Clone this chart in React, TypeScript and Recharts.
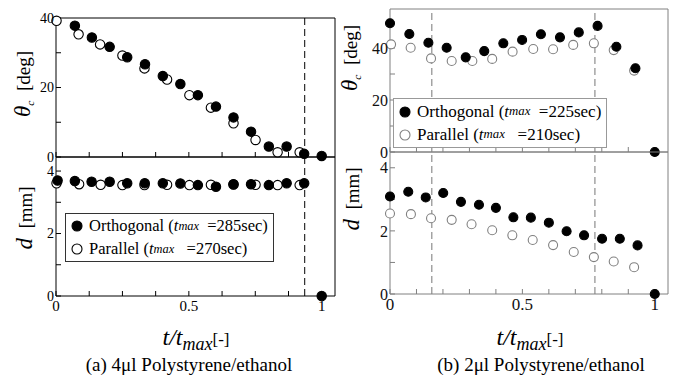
import React from "react";
import { Legend, ReferenceLine, Scatter, ScatterChart, XAxis, YAxis } from "recharts";

// (a) 4ul, t/tmax positions and values
const A_THETA_ORTH_T = [0.071, 0.135, 0.202, 0.268, 0.335, 0.402, 0.468, 0.534, 0.602, 0.668, 0.734, 0.801, 0.868, 0.934, 1.0];
const A_THETA_ORTH = [37.8, 34.4, 31.7, 28.7, 26.7, 23.3, 21.0, 17.8, 14.5, 11.4, 7.3, 3.0, 3.0, 0.9, 0.3];
const A_THETA_PAR_T = [0.002, 0.085, 0.166, 0.25, 0.333, 0.418, 0.502, 0.583, 0.668, 0.751, 0.834, 0.917];
const A_THETA_PAR = [39.2, 35.3, 32.4, 29.2, 25.5, 22.3, 17.8, 14.2, 9.7, 4.9, 1.35, 1.35];
const A_D_ORTH_T = [0.006, 0.071, 0.134, 0.202, 0.268, 0.334, 0.402, 0.468, 0.534, 0.602, 0.668, 0.734, 0.801, 0.868, 0.934, 1.0];
const A_D_ORTH = [3.7, 3.68, 3.66, 3.66, 3.61, 3.61, 3.61, 3.6, 3.55, 3.5, 3.58, 3.58, 3.55, 3.61, 3.61, 0];
const A_D_PAR_T = [0.002, 0.087, 0.168, 0.25, 0.333, 0.418, 0.502, 0.583, 0.668, 0.751, 0.834, 0.917];
const A_D_PAR = [3.61, 3.58, 3.56, 3.55, 3.55, 3.56, 3.55, 3.56, 3.57, 3.56, 3.55, 3.55];

// (b) 2ul
const B_THETA_ORTH_T = [0, 0.073, 0.145, 0.214, 0.286, 0.356, 0.428, 0.499, 0.57, 0.642, 0.713, 0.784, 0.855, 0.927, 1.0];
const B_THETA_ORTH = [49.5, 45.4, 42.0, 40.1, 36.4, 38.8, 41.8, 43.1, 45.3, 44.1, 46.0, 48.5, 40.5, 32.2, 0];
const B_THETA_PAR_T = [0.004, 0.078, 0.155, 0.233, 0.311, 0.386, 0.463, 0.541, 0.616, 0.692, 0.77, 0.845, 0.922];
const B_THETA_PAR = [41.4, 40.1, 36.0, 35.0, 35.0, 35.8, 38.6, 39.6, 39.5, 41.2, 41.8, 39.2, 31.3];
const B_D_ORTH_T = [0, 0.069, 0.135, 0.201, 0.268, 0.336, 0.4, 0.466, 0.532, 0.6, 0.667, 0.733, 0.801, 0.868, 0.935, 1.0];
const B_D_ORTH = [3.09, 3.24, 3.06, 3.2, 2.92, 2.83, 2.73, 2.43, 2.42, 2.26, 1.99, 1.86, 1.75, 1.75, 1.54, 0];
const B_D_PAR_T = [0, 0.079, 0.155, 0.233, 0.308, 0.386, 0.462, 0.539, 0.616, 0.694, 0.77, 0.845, 0.922];
const B_D_PAR = [2.55, 2.53, 2.4, 2.35, 2.21, 2.02, 1.86, 1.71, 1.55, 1.33, 1.17, 1.03, 0.85];

// ticks
const A_X_TICKS = [0, 0.125, 0.25, 0.375, 0.5, 0.625, 0.75, 0.875, 1];
const B_X_TICKS = [0, 0.1, 0.2, 0.3, 0.4, 0.5, 0.6, 0.7, 0.8, 0.9, 1];
const X_LABELS = [0, 0.5, 1];
const A_THETA_TICKS = [0, 10, 20, 30, 40];
const A_THETA_RIGHT = [3.9, 10.2, 16.4, 22.7, 29, 35.3];
const A_D_TICKS = [0, 1, 2, 3, 4];
const A_D_RIGHT = [0.65, 1.3, 1.96, 2.62, 3.29, 3.95];
const B_THETA_TICKS = [0, 10, 20, 30, 40, 50];
const B_THETA_RIGHT = [0, 4, 8, 12, 16, 20, 24, 28, 32, 36, 40, 44, 48, 52];
const B_D_TICKS = [0, 1, 2, 3, 4];
const B_D_RIGHT = [0, 0.5, 1, 1.5, 2, 2.5, 3, 3.5, 4];
const THETA_LABELS = [0, 20, 40];
const D_LABELS = [0, 2, 4];

const A_TMAX = ["285", "270"];
const B_TMAX = ["225", "210"];

const zip = (ts: number[], vs: number[]) => ts.map((t, i) => ({ t, v: vs[i] }));

const FONT = "'Liberation Serif', 'Times New Roman', Times, serif";

const dot = (r: number, fill: string, stroke: string) => (p: any) =>
  p.cx == null ? <g /> : <circle cx={p.cx} cy={p.cy} r={r} fill={fill} stroke={stroke} strokeWidth={1.1} />;

function LegendBox({ tmax, border, openStroke, font }: any) {
  const row = (filled: boolean, label: string, t: string, gap: string) => (
    <div style={{ display: "flex", alignItems: "center", height: font + 6, whiteSpace: "nowrap" }}>
      <svg width={16} height={14} style={{ marginRight: 4 }}>
        <circle cx={8} cy={7} r={5} fill={filled ? "#000" : "#fff"} stroke={filled ? "#000" : openStroke} strokeWidth={1.1} />
      </svg>
      <span>{label}</span>
      <span style={{ fontStyle: "italic" }}>t</span>
      <sub style={{ fontStyle: "italic", fontSize: font * 0.75, verticalAlign: "-0.35em" }}>max</sub>
      <span style={{ whiteSpace: "pre" }}>{gap}=</span>
      <span>{t}sec)</span>
    </div>
  );
  return (
    <div
      style={{
        border: `1px solid ${border}`,
        background: "#fff",
        padding: "1px 5px 1px 3px",
        fontFamily: FONT,
        fontSize: font,
        color: "#000",
        lineHeight: 1,
      }}
    >
      {row(true, "Orthogonal (", tmax[0], "  ")}
      {row(false, "Parallel ( ", tmax[1], "   ")}
    </div>
  );
}

function Plot(props: any) {
  const {
    w, h, margin, ymax, yTicks, yLabels, rightTicks, xTicks, xLabels, tickColor,
    axisColor, refLines, refColor, orth, par, openStroke, r, topTicks, fs, yfs, legend,
  } = props;
  const tickStyle = { fontSize: fs, fill: tickColor, fontFamily: FONT };
  const yTickStyle = { fontSize: yfs, fill: tickColor, fontFamily: FONT };
  return (
    <ScatterChart width={w} height={h} margin={margin}>
      <XAxis
        xAxisId="b"
        type="number"
        dataKey="t"
        domain={[0, 1.05]}
        ticks={xTicks}
        interval={0}
        height={xLabels ? 30 : 1}
        tickSize={-5}
        tickMargin={9}
        stroke={axisColor}
        tick={tickStyle}
        tickFormatter={(v: number) => (xLabels && X_LABELS.includes(v) ? String(v) : "")}
      />
      <XAxis
        xAxisId="t"
        orientation="top"
        type="number"
        domain={[0, 1.05]}
        ticks={xTicks}
        interval={0}
        height={1}
        tickSize={-5}
        tickLine={topTicks}
        stroke={axisColor}
        tickFormatter={() => ""}
      />
      <YAxis
        yAxisId="l"
        type="number"
        dataKey="v"
        domain={[0, ymax]}
        ticks={yTicks}
        interval={0}
        width={40}
        tickSize={-5}
        tickMargin={7}
        stroke={axisColor}
        tick={yTickStyle}
        tickFormatter={(v: number) => (yLabels.includes(v) ? String(v) : "")}
      />
      <YAxis
        yAxisId="r"
        orientation="right"
        type="number"
        domain={[0, ymax]}
        ticks={rightTicks}
        interval={0}
        width={1}
        tickSize={-4}
        stroke={axisColor}
        tickFormatter={() => ""}
      />
      {refLines.map((x: number) => (
        <ReferenceLine key={x} x={x} xAxisId="b" yAxisId="l" stroke={refColor} strokeDasharray="7 4" strokeWidth={1} />
      ))}
      {legend && (
        <Legend
          layout="vertical"
          align="center"
          verticalAlign="middle"
          wrapperStyle={{ left: legend.x, top: legend.y, width: "auto" }}
          content={() => <LegendBox {...legend} openStroke={openStroke} />}
        />
      )}
      <Scatter
        name="Parallel"
        data={par}
        xAxisId="b"
        yAxisId="l"
        dataKey="v"
        isAnimationActive={false}
        shape={dot(r, "#fff", openStroke)}
      />
      <Scatter
        name="Orthogonal"
        data={orth}
        xAxisId="b"
        yAxisId="l"
        dataKey="v"
        isAnimationActive={false}
        shape={dot(r, "#000", "#000")}
      />
    </ScatterChart>
  );
}

function VTitle({ x, y, kind, size }: any) {
  return (
    <div
      style={{
        position: "absolute",
        left: x,
        top: y,
        transform: "translate(-50%, -50%) rotate(-90deg)",
        whiteSpace: "nowrap",
        fontFamily: FONT,
        color: "#000",
        lineHeight: 1,
      }}
    >
      {kind === "theta" ? (
        <>
          <span style={{ fontStyle: "italic", fontSize: size + 4 }}>θ</span>
          <sub style={{ fontStyle: "italic", fontSize: size * 0.6 }}>c</sub>
          <span style={{ fontSize: size, whiteSpace: "pre" }}>{"  [deg]"}</span>
        </>
      ) : (
        <>
          <span style={{ fontStyle: "italic", fontSize: size + 4 }}>d</span>
          <span style={{ fontSize: size, whiteSpace: "pre" }}>{"  [mm]"}</span>
        </>
      )}
    </div>
  );
}

function XTitle({ x, y }: any) {
  return (
    <div
      style={{
        position: "absolute",
        left: x,
        top: y,
        transform: "translate(-50%, -50%)",
        whiteSpace: "nowrap",
        fontFamily: FONT,
        color: "#000",
        lineHeight: 1,
      }}
    >
      <span style={{ fontStyle: "italic", fontSize: 24 }}>t/t</span>
      <sub style={{ fontStyle: "italic", fontSize: 18, verticalAlign: "-0.3em" }}>max</sub>
      <span style={{ fontSize: 17 }}>[-]</span>
    </div>
  );
}

function Caption({ x, y, text }: any) {
  return (
    <div
      style={{
        position: "absolute",
        left: x,
        top: y,
        transform: "translate(-50%, -50%)",
        whiteSpace: "nowrap",
        fontFamily: FONT,
        fontSize: 19,
        color: "#000",
      }}
    >
      {text}
    </div>
  );
}

export default function App() {
  const aCommon = { w: 345, xTicks: A_X_TICKS, tickColor: "#000", axisColor: "#000", refLines: [0.936], refColor: "#000", openStroke: "#000", r: 4.7, fs: 15, yfs: 14 };
  const bCommon = { w: 350, xTicks: B_X_TICKS, tickColor: "#111", axisColor: "#808080", refLines: [0.158, 0.774], refColor: "#777", openStroke: "#808080", r: 4.5, fs: 17, yfs: 16 };
  return (
    <div style={{ position: "relative", width: 680, height: 378, background: "#fff", overflow: "hidden" }}>
      <style>{`body{margin:0}`}</style>
      <div style={{ position: "absolute", left: 0, top: 0 }}>
        <Plot
          {...aCommon}
          h={175}
          margin={{ top: 17, left: 16, right: 9, bottom: 17 }}
          ymax={40}
          yTicks={A_THETA_TICKS}
          yLabels={THETA_LABELS}
          rightTicks={A_THETA_RIGHT}
          xLabels={false}
          topTicks={true}
          orth={zip(A_THETA_ORTH_T, A_THETA_ORTH)}
          par={zip(A_THETA_PAR_T, A_THETA_PAR)}
        />
      </div>
      <div style={{ position: "absolute", left: 0, top: 140 }}>
        <Plot
          {...aCommon}
          h={190}
          margin={{ top: 16, left: 16, right: 9, bottom: 4 }}
          ymax={4.45}
          yTicks={A_D_TICKS}
          yLabels={D_LABELS}
          rightTicks={A_D_RIGHT}
          xLabels={true}
          topTicks={false}
          orth={zip(A_D_ORTH_T, A_D_ORTH)}
          par={zip(A_D_PAR_T, A_D_PAR)}
          legend={{ x: 65, y: 73, tmax: A_TMAX, border: "#333", font: 16.5 }}
        />
      </div>
      <div style={{ position: "absolute", left: 330, top: 0 }}>
        <Plot
          {...bCommon}
          h={170}
          margin={{ top: 8, left: 20, right: 11, bottom: 17 }}
          ymax={55}
          yTicks={B_THETA_TICKS}
          yLabels={THETA_LABELS}
          rightTicks={B_THETA_RIGHT}
          xLabels={false}
          topTicks={true}
          orth={zip(B_THETA_ORTH_T, B_THETA_ORTH)}
          par={zip(B_THETA_PAR_T, B_THETA_PAR)}
          legend={{ x: 63, y: 98, tmax: B_TMAX, border: "#999", font: 17 }}
        />
      </div>
      <div style={{ position: "absolute", left: 330, top: 135 }}>
        <Plot
          {...bCommon}
          h={195}
          margin={{ top: 16, left: 20, right: 11, bottom: 6 }}
          ymax={4.5}
          yTicks={B_D_TICKS}
          yLabels={D_LABELS}
          rightTicks={B_D_RIGHT}
          xLabels={true}
          topTicks={true}
          orth={zip(B_D_ORTH_T, B_D_ORTH)}
          par={zip(B_D_PAR_T, B_D_PAR)}
        />
      </div>
      <VTitle x={24} y={84} kind="theta" size={19} />
      <VTitle x={24} y={218} kind="d" size={19} />
      <VTitle x={351} y={58} kind="theta" size={19} />
      <VTitle x={351} y={199} kind="d" size={19} />
      <XTitle x={196} y={339} />
      <XTitle x={530} y={339} />
      <Caption x={189} y={365} text="(a) 4μl Polystyrene/ethanol" />
      <Caption x={541} y={365} text="(b) 2μl Polystyrene/ethanol" />
    </div>
  );
}
